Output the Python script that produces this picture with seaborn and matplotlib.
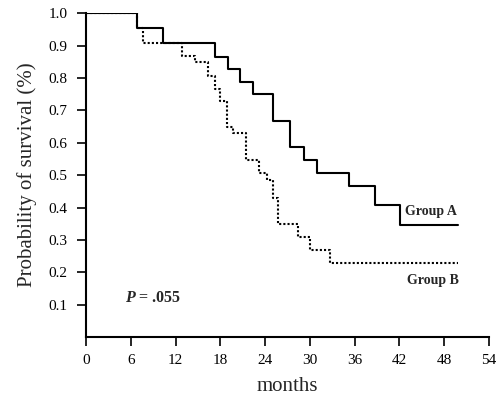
import pandas as pd
import seaborn as sns
import matplotlib.pyplot as plt

# step points of the survival curves (months, probability)
months_a = [0, 6.9, 10.3, 17.3, 19.0, 20.7, 22.4, 25.0, 27.4, 29.2, 30.9, 35.3, 38.7, 42.1, 49.8]
surv_a = [1.0, 0.955, 0.909, 0.866, 0.827, 0.788, 0.75, 0.668, 0.587, 0.547, 0.507, 0.467, 0.408, 0.347, 0.347]

months_b = [0, 6.9, 7.7, 12.9, 14.6, 16.3, 17.3, 18.0, 18.9, 19.7, 21.4, 23.2, 24.2, 25.0, 25.7,
            28.4, 30.0, 32.7, 49.8]
surv_b = [1.0, 0.955, 0.909, 0.868, 0.849, 0.807, 0.767, 0.73, 0.648, 0.63, 0.547, 0.506, 0.486,
          0.43, 0.348, 0.31, 0.268, 0.229, 0.229]

x_ticks = [0, 6, 12, 18, 24, 30, 36, 42, 48, 54]
y_ticks = [0.1, 0.2, 0.3, 0.4, 0.5, 0.6, 0.7, 0.8, 0.9, 1.0]

df = pd.concat([
    pd.DataFrame({'months': months_a, 'surv': surv_a, 'group': 'Group A'}),
    pd.DataFrame({'months': months_b, 'surv': surv_b, 'group': 'Group B'}),
])

sns.set_style('ticks')
plt.rcParams['font.family'] = ['Liberation Serif', 'DejaVu Serif']
plt.rcParams['mathtext.fontset'] = 'custom'
plt.rcParams['mathtext.bfit'] = 'Liberation Serif:italic:bold'

fig = plt.figure(figsize=(4.99, 3.98), dpi=100)
ax = fig.add_axes([0.1723, 0.153, 0.8076, 0.814])

sns.lineplot(data=df, x='months', y='surv', style='group',
             dashes={'Group A': '', 'Group B': (1, 1)},
             color='black', linewidth=1.5, drawstyle='steps-post',
             legend=False, ax=ax, estimator=None)

ax.set_xlim(0, 54)
ax.set_ylim(0, 1.0)
ax.set_xticks(x_ticks)
ax.set_yticks(y_ticks)
ax.set_yticklabels(['%.1f' % v for v in y_ticks])
ax.tick_params(axis='both', direction='out', length=6.5, width=1.2, labelsize=11, colors='black')
ax.tick_params(axis='x', pad=6)
ax.tick_params(axis='y', pad=7)
for s in ['left', 'bottom']:
    ax.spines[s].set_linewidth(1.5)
    ax.spines[s].set_color('black')
sns.despine(ax=ax)

ax.set_xlabel('months', fontsize=15, labelpad=7)
ax.set_ylabel('Probability of survival (%)', fontsize=15, labelpad=8)

ax.text(42.7, 0.387, 'Group A', fontsize=10, fontweight='bold', va='center')
ax.text(43.0, 0.174, 'Group B', fontsize=10, fontweight='bold', va='center')
ax.text(5.2, 0.121, r'$\mathbfit{P}$' + ' = .055', fontsize=11.5, fontweight='bold', va='center')

fig.savefig('out.png', dpi=100)
